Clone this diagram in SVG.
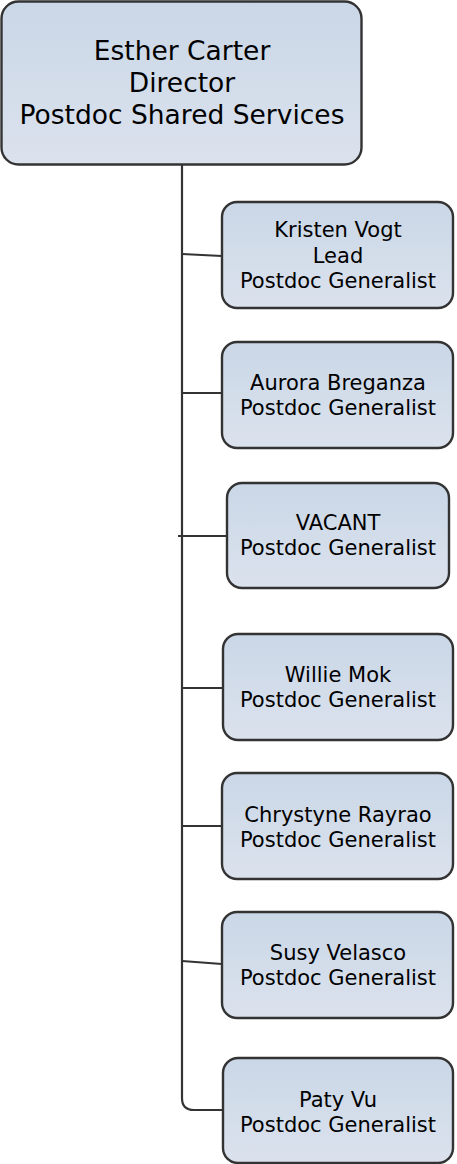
<svg xmlns="http://www.w3.org/2000/svg" width="457" height="1164" viewBox="0 0 457 1164">
<defs>
<linearGradient id="g" x1="0" y1="0" x2="0" y2="1">
<stop offset="0" stop-color="#cad7e7"/>
<stop offset="1" stop-color="#dbe2ed"/>
</linearGradient>
<style>
.box{fill:url(#g);stroke:#333;stroke-width:2.4}
.t{font-family:"DejaVu Sans",Verdana,sans-serif;fill:#000;text-anchor:middle}
.big{font-size:26.5px}
.sm{font-size:21px}
.c{fill:none;stroke:#333;stroke-width:2.2}
</style>
</defs>
<g id="connectors">
<path class="c" d="M182 165 V1098 Q182 1110 194 1110 H223"/>
<path class="c" d="M182 254 L222 256"/>
<path class="c" d="M182 393 H222"/>
<path class="c" d="M178 536 H227"/>
<path class="c" d="M182 688 H223"/>
<path class="c" d="M182 826 H222"/>
<path class="c" d="M182 961 L222 964"/>
</g>
<g id="n0">
<rect class="box" x="1.5" y="1.5" width="360" height="163" rx="17"/>
<text class="t big" x="182" y="60">Esther Carter</text>
<text class="t big" x="182" y="92">Director</text>
<text class="t big" x="182" y="124">Postdoc Shared Services</text>
</g>
<g id="n1">
<rect class="box" x="222" y="202" width="231" height="106" rx="15"/>
<text class="t sm" x="338" y="237">Kristen Vogt</text>
<text class="t sm" x="338" y="263">Lead</text>
<text class="t sm" x="338" y="288">Postdoc Generalist</text>
</g>
<g id="n2">
<rect class="box" x="222" y="342" width="231" height="106" rx="15"/>
<text class="t sm" x="338" y="390">Aurora Breganza</text>
<text class="t sm" x="338" y="415">Postdoc Generalist</text>
</g>
<g id="n3">
<rect class="box" x="227" y="483" width="222" height="105" rx="15"/>
<text class="t sm" x="338" y="530">VACANT</text>
<text class="t sm" x="338" y="555">Postdoc Generalist</text>
</g>
<g id="n4">
<rect class="box" x="223" y="634" width="230" height="106" rx="15"/>
<text class="t sm" x="338" y="682">Willie Mok</text>
<text class="t sm" x="338" y="707">Postdoc Generalist</text>
</g>
<g id="n5">
<rect class="box" x="222" y="773" width="231" height="106" rx="15"/>
<text class="t sm" x="338" y="822">Chrystyne Rayrao</text>
<text class="t sm" x="338" y="847">Postdoc Generalist</text>
</g>
<g id="n6">
<rect class="box" x="222" y="912" width="231" height="106" rx="15"/>
<text class="t sm" x="338" y="960">Susy Velasco</text>
<text class="t sm" x="338" y="985">Postdoc Generalist</text>
</g>
<g id="n7">
<rect class="box" x="223" y="1058" width="230" height="105" rx="15"/>
<text class="t sm" x="338" y="1107">Paty Vu</text>
<text class="t sm" x="338" y="1132">Postdoc Generalist</text>
</g>
</svg>
